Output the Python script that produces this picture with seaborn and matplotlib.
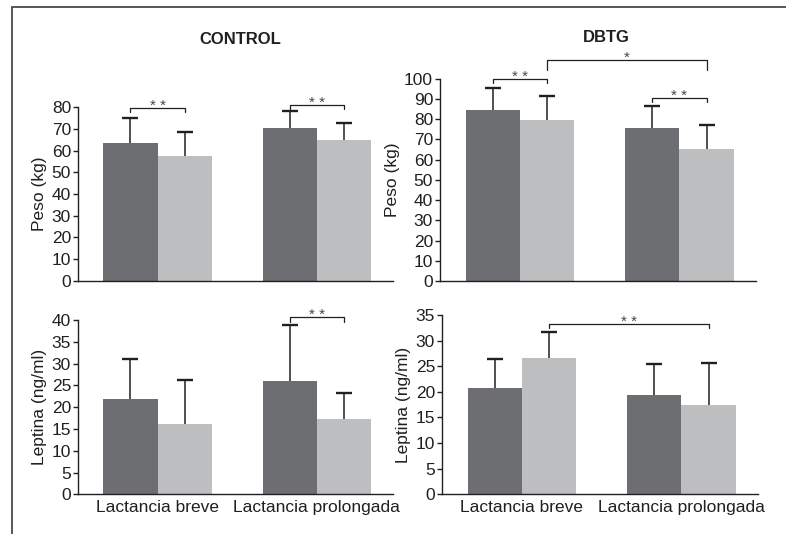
import pandas as pd
import matplotlib
matplotlib.use("Agg")
import matplotlib.pyplot as plt
from matplotlib.patches import Rectangle
import seaborn as sns

# -----------------------------
# Data
# -----------------------------
categories = ["Lactancia breve", "Lactancia prolongada"]
groups = ["Inicio", "Final"]

control_peso_mean = {"Inicio": [63.3, 70.3], "Final": [57.7, 64.8]}
control_peso_sd = {"Inicio": [11.6, 8.0], "Final": [10.8, 7.7]}
dbtg_peso_mean = {"Inicio": [84.7, 75.7], "Final": [79.7, 65.3]}
dbtg_peso_sd = {"Inicio": [10.7, 10.9], "Final": [12.0, 11.9]}

control_lep_mean = {"Inicio": [21.9, 26.0], "Final": [16.1, 17.3]}
control_lep_sd = {"Inicio": [9.1, 12.9], "Final": [10.2, 6.0]}
dbtg_lep_mean = {"Inicio": [20.8, 19.4], "Final": [26.6, 17.4]}
dbtg_lep_sd = {"Inicio": [5.6, 6.0], "Final": [5.0, 8.3]}

# significance brackets: (cat, group) -> (cat, group), level, label
control_peso_sig = [((0, 0), (0, 1), 79.5, "* *"), ((1, 0), (1, 1), 80.9, "* *")]
dbtg_peso_sig = [((0, 0), (0, 1), 100.1, "* *"), ((0, 1), (1, 1), 109.3, "*"),
                 ((1, 0), (1, 1), 90.7, "* *")]
control_lep_sig = [((1, 0), (1, 1), 40.6, "* *")]
dbtg_lep_sig = [((0, 1), (1, 1), 33.3, "* *")]

DARK = "#6d6e71"
LIGHT = "#bcbec0"
INK = "#231f20"


def to_frame(means, sds):
    rows = []
    for g in groups:
        for i, c in enumerate(categories):
            rows.append({"cat": c, "grupo": g, "media": means[g][i], "sd": sds[g][i]})
    return pd.DataFrame(rows)


def draw_panel(ax, means, sds, ymax, step, ylabel, sigs, show_x):
    df = to_frame(means, sds)
    sns.barplot(data=df, x="cat", y="media", hue="grupo", order=categories,
                hue_order=groups, palette=[DARK, LIGHT], width=0.68,
                errorbar=None, legend=False, saturation=1, linewidth=0, ax=ax)

    # error bars from the drawn bars (upper side only, single cap)
    centers = {}
    for p in list(ax.patches):
        cx = p.get_x() + p.get_width() / 2
        h = p.get_height()
        ci = int(round(cx))
        gi = 0 if cx < ci else 1
        centers[(ci, gi)] = (cx, h)
        top = h + sds[groups[gi]][ci]
        ax.vlines(cx, h, top, color=INK, lw=1.1, zorder=1)
        ax.plot([cx], [top], marker="_", ms=12, mew=1.7, color=INK,
                clip_on=False, zorder=1)

    tick = ymax * 0.024
    for a, b, level, label in sigs:
        x0 = centers[a][0]
        x1 = centers[b][0]
        t = tick * 2 if label == "*" else tick
        ax.plot([x0, x0, x1, x1], [level - t, level, level, level - t],
                color=INK, lw=0.9, clip_on=False)
        ax.annotate(label, ((x0 + x1) / 2, level), xytext=(0, -1.5),
                    textcoords="offset points", ha="center", va="baseline",
                    fontsize=11, color="#444444", annotation_clip=False)

    ax.set_ylim(0, ymax)
    ax.set_yticks(range(0, ymax + 1, step))
    ax.set_xlim(-0.5, 1.48)
    ax.set_ylabel(ylabel, fontsize=12.5, color=INK, labelpad=3)
    ax.set_xlabel("")
    sns.despine(ax=ax)
    for s in ("left", "bottom"):
        ax.spines[s].set_color(INK)
        ax.spines[s].set_linewidth(1.0)
    ax.tick_params(axis="y", length=3.5, width=1.0, color=INK, pad=1.5,
                   labelsize=12.5, labelcolor=INK)
    ax.tick_params(axis="x", length=0, pad=4, labelsize=12.5, labelcolor=INK)
    if not show_x:
        ax.set_xticklabels([])


sns.set_theme(style="ticks")
plt.rcParams["font.family"] = ["Liberation Sans", "DejaVu Sans"]

fig = plt.figure(figsize=(7.86, 5.34), dpi=100)

ax_tl = fig.add_axes([0.0992, 0.4738, 0.4008, 0.3258])
ax_tr = fig.add_axes([0.5598, 0.4738, 0.4020, 0.3788])
ax_bl = fig.add_axes([0.0992, 0.0743, 0.4008, 0.3264])
ax_br = fig.add_axes([0.5623, 0.0743, 0.4021, 0.3358])

draw_panel(ax_tl, control_peso_mean, control_peso_sd, 80, 10, "Peso (kg)", control_peso_sig, False)
draw_panel(ax_tr, dbtg_peso_mean, dbtg_peso_sd, 100, 10, "Peso (kg)", dbtg_peso_sig, False)
draw_panel(ax_bl, control_lep_mean, control_lep_sd, 40, 5, "Leptina (ng/ml)", control_lep_sig, True)
draw_panel(ax_br, dbtg_lep_mean, dbtg_lep_sd, 35, 5, "Leptina (ng/ml)", dbtg_lep_sig, True)

fig.text(240 / 786, 1 - 40 / 534, "CONTROL", ha="center", va="center",
         fontsize=12, fontweight="bold", color=INK)
fig.text(606 / 786, 1 - 38 / 534, "DBTG", ha="center", va="center",
         fontsize=12, fontweight="bold", color=INK)

# outer frame (open at right and bottom edges of the crop)
fig.patches.append(Rectangle((12 / 786, -0.05), 1.2, 1 - 7 / 534 + 0.05,
                             transform=fig.transFigure, fill=False,
                             edgecolor="#4a4a4a", linewidth=1.3))

fig.savefig("out.png", dpi=100)
plt.close(fig)
